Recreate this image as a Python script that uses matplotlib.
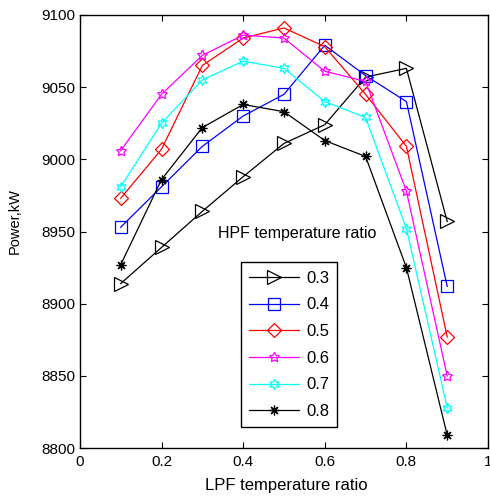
import matplotlib
matplotlib.use('Agg')
import matplotlib.pyplot as plt

plt.rcParams['font.family'] = ['Liberation Sans', 'DejaVu Sans']

LPF_RATIO = [0.1, 0.2, 0.3, 0.4, 0.5, 0.6, 0.7, 0.8, 0.9]
HPF_LABELS = ['0.3', '0.4', '0.5', '0.6', '0.7', '0.8']
POWER_03 = [8914, 8939, 8964, 8988, 9011, 9024, 9057, 9063, 8957]
POWER_04 = [8953, 8981, 9009, 9030, 9045, 9079, 9058, 9040, 8912]
POWER_05 = [8973, 9007, 9065, 9084, 9091, 9078, 9045, 9009, 8877]
POWER_06 = [9006, 9045, 9072, 9086, 9084, 9061, 9054, 8978, 8850]
POWER_07 = [8981, 9025, 9055, 9068, 9063, 9040, 9029, 8952, 8828]
POWER_08 = [8927, 8986, 9022, 9038, 9033, 9013, 9002, 8925, 8809]

SERIES = [POWER_03, POWER_04, POWER_05, POWER_06, POWER_07, POWER_08]
COLORS = ['black', 'blue', 'red', 'magenta', 'cyan', 'black']
MARKERS = ['>', 's', 'D', (5, 1, 0), (6, 1, 0), (8, 2, 0)]
MSIZES = [10, 8, 7.5, 7.5, 7.5, 7]

fig, ax = plt.subplots(figsize=(4.9, 4.98), dpi=100)
fig.subplots_adjust(left=0.163, right=0.996, top=0.970, bottom=0.100)

for vals, lab, c, m, ms in zip(SERIES, HPF_LABELS, COLORS, MARKERS, MSIZES):
    ax.plot(LPF_RATIO, vals, color=c, marker=m, markersize=ms,
            markerfacecolor='none', markeredgecolor=c, markeredgewidth=0.9,
            linewidth=0.9, label=lab)

ax.set_xlim(0, 1)
ax.set_ylim(8800, 9100)
ax.set_xticks([0, 0.2, 0.4, 0.6, 0.8, 1])
ax.set_xticklabels(['0', '0.2', '0.4', '0.6', '0.8', '1'])
ax.set_yticks(range(8800, 9101, 50))
ax.tick_params(direction='in', top=True, right=True, labelsize=11, length=4, width=0.8)
ax.tick_params(axis='x', pad=5)
for sp in ax.spines.values():
    sp.set_linewidth(1.0)

ax.set_xlabel('LPF temperature ratio', fontsize=12)
ax.set_ylabel('Power,kW', fontsize=10.5)
ax.xaxis.set_label_coords(0.505, -0.069)
ax.yaxis.set_label_coords(-0.142, 0.525)

ax.text(0.532, 8949, 'HPF temperature ratio', fontsize=11.5, ha='center', va='center')

leg = ax.legend(loc='lower left', bbox_to_anchor=(0.395, 0.048), borderaxespad=0,
                fontsize=12, fancybox=False, edgecolor='black', framealpha=1,
                handlelength=3.0, borderpad=0.5, labelspacing=0.7, handletextpad=0.4)
leg.get_frame().set_linewidth(1.0)

fig.savefig('out.png', dpi=100)
